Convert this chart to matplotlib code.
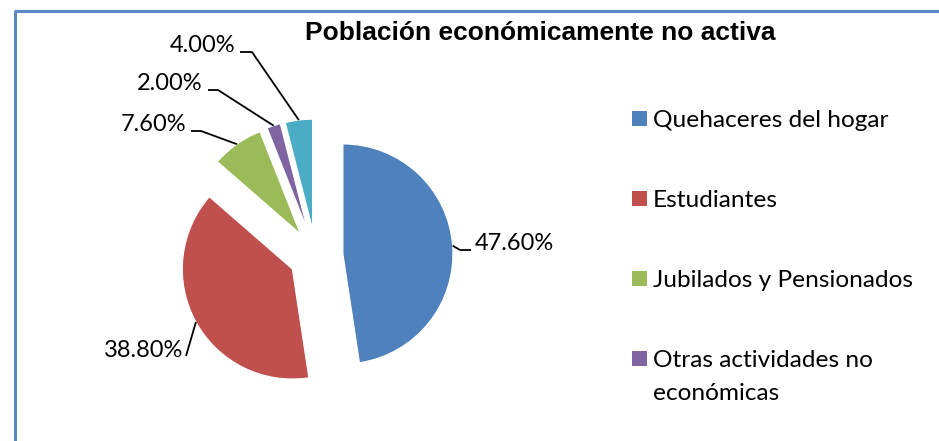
import numpy as np
import matplotlib.pyplot as plt
from matplotlib.patches import Rectangle

# datos del gráfico
categorias = ["Quehaceres del hogar", "Estudiantes", "Jubilados y Pensionados",
              "Otras actividades no\neconómicas", "Otros"]
porcentajes = [47.6, 38.8, 7.6, 2.0, 4.0]
colores = ["#4F81BD", "#C0504D", "#9BBB59", "#8064A2", "#4BACC6"]
titulo = "Población económicamente no activa"

W, H = 939, 441
fig = plt.figure(figsize=(W / 100, H / 100), dpi=100)
ax = fig.add_axes([0, 0, 1, 1])

# pastel con todas las porciones separadas (coordenadas en pixeles, y hacia arriba)
radio = 110
centro = (316, H - 256)
wedges, _ = ax.pie(porcentajes, colors=colores, startangle=90, counterclock=False,
                   explode=[27] * len(porcentajes), radius=radio, center=centro,
                   wedgeprops=dict(edgecolor="white", linewidth=0.8))
ax.set_xlim(0, W)
ax.set_ylim(0, H)
ax.set_aspect("equal")
ax.axis("off")

fuente = "Lato"

# etiquetas con linea guia: (x texto, linea base, alineacion, puntos de la guia)
etiquetas = [
    (475, 250, "left", [(460, 250), (471, 250)]),
    (183, 357, "right", [(186, 356)]),
    (186, 131, "right", [(201, 131), (191, 131)]),
    (203, 90, "right", [(218, 90), (208, 90)]),
    (235, 52, "right", [(252, 52), (240, 52)]),
]
for w, p, (tx, ty, ha, guia) in zip(wedges, porcentajes, etiquetas):
    tm = np.deg2rad((w.theta1 + w.theta2) / 2)
    x0 = w.center[0] + w.r * np.cos(tm)
    y0 = w.center[1] + w.r * np.sin(tm)
    xs = [x0] + [g[0] for g in guia]
    ys = [y0] + [H - g[1] for g in guia]
    ax.plot(xs, ys, color="black", lw=1.3, solid_capstyle="butt")
    ax.text(tx, H - ty, f"{p:.2f}%", ha=ha, va="baseline", fontsize=17,
            family=fuente, color="black")

# titulo
ax.text(540, H - 40, titulo, ha="center", va="baseline", fontsize=19,
        fontweight="bold", family="Liberation Sans")

# leyenda (solo las primeras cuatro categorias caben en el recuadro)
ley_x, ley_y, paso = 632, 127, 80
for i in range(4):
    base = ley_y + i * paso
    ax.add_patch(Rectangle((ley_x, H - base + 1), 15, 15, color=colores[i], lw=0))
    lineas = categorias[i].split("\n")
    for j, t in enumerate(lineas):
        ax.text(ley_x + 21, H - base - j * 33, t, ha="left", va="baseline",
                fontsize=17.6, family=fuente, color="black")

# borde del area del grafico
ax.plot([15, 15], [0, H - 11], color="#5A8AC6", lw=2.2, solid_capstyle="butt")
ax.plot([14, W], [H - 11, H - 11], color="#5A8AC6", lw=2.2, solid_capstyle="butt")

fig.savefig("out.png", dpi=100)
